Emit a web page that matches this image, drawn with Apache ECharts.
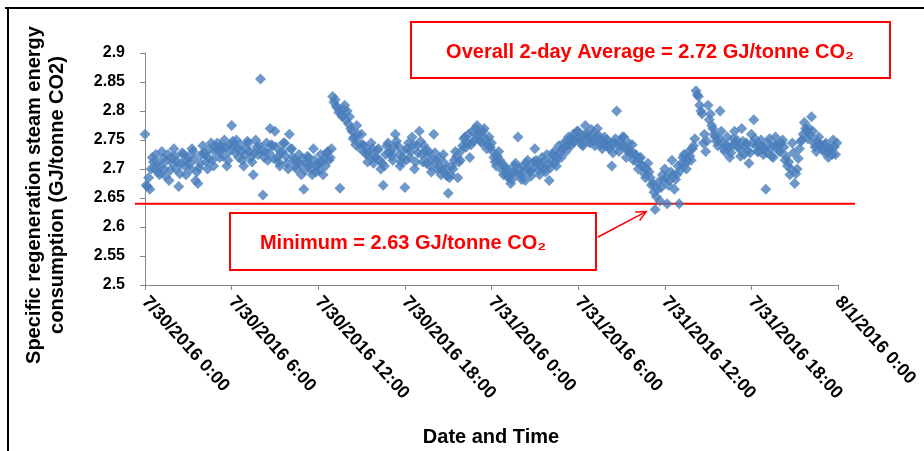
<!DOCTYPE html>
<html>
<head>
<meta charset="utf-8">
<script src="https://cdn.jsdelivr.net/npm/echarts@6/dist/echarts.min.js"></script>
<style>
  html, body { margin: 0; padding: 0; background: #fff; }
  #chart { width: 924px; height: 451px; }
</style>
</head>
<body>
<div id="chart"></div>
<script>
// Tick labels along the time axis (every 6 hours)
const tickLabels = [
  '7/30/2016 0:00', '7/30/2016 6:00', '7/30/2016 12:00', '7/30/2016 18:00',
  '7/31/2016 0:00', '7/31/2016 6:00', '7/31/2016 12:00', '7/31/2016 18:00',
  '8/1/2016 0:00'
];
const tickStepHours = 6;
// Readings are logged every 5 minutes from 7/30/2016 0:00
const sampleStepHours = 1 / 12;

// Specific regeneration steam energy (GJ/tonne CO2), one row per hour
const steam = [
  2.760, 2.672, 2.670, 2.685, 2.665, 2.700, 2.720, 2.712, 2.700, 2.725, 2.710, 2.695,
  2.690, 2.705, 2.730, 2.718, 2.700, 2.688, 2.715, 2.725, 2.680, 2.698, 2.720, 2.710,
  2.735, 2.722, 2.700, 2.712, 2.670, 2.692, 2.710, 2.728, 2.725, 2.705, 2.690, 2.715,
  2.720, 2.708, 2.700, 2.735, 2.730, 2.718, 2.680, 2.695, 2.675, 2.702, 2.710, 2.725,
  2.740, 2.728, 2.725, 2.712, 2.700, 2.718, 2.735, 2.745, 2.715, 2.705, 2.730, 2.738,
  2.745, 2.732, 2.720, 2.740, 2.735, 2.722, 2.750, 2.738, 2.705, 2.715, 2.730, 2.742,
  2.775, 2.748, 2.740, 2.728, 2.750, 2.735, 2.720, 2.742, 2.730, 2.715, 2.705, 2.725,
  2.735, 2.748, 2.745, 2.730, 2.720, 2.712, 2.690, 2.728, 2.750, 2.738, 2.725, 2.740,
  2.855, 2.732, 2.655, 2.720, 2.730, 2.745, 2.715, 2.728, 2.770, 2.742, 2.740, 2.718,
  2.765, 2.738, 2.720, 2.712, 2.705, 2.728, 2.730, 2.745, 2.745, 2.722, 2.710, 2.700,
  2.760, 2.735, 2.735, 2.720, 2.715, 2.705, 2.700, 2.712, 2.725, 2.708, 2.690, 2.718,
  2.665, 2.698, 2.710, 2.722, 2.720, 2.708, 2.700, 2.690, 2.735, 2.715, 2.695, 2.705,
  2.710, 2.698, 2.725, 2.712, 2.690, 2.718, 2.705, 2.728, 2.730, 2.715, 2.720, 2.735,
  2.825, 2.815, 2.820, 2.808, 2.805, 2.798, 2.667, 2.795, 2.790, 2.802, 2.810, 2.785,
  2.800, 2.778, 2.790, 2.770, 2.765, 2.752, 2.755, 2.742, 2.775, 2.760, 2.745, 2.735,
  2.760, 2.742, 2.740, 2.728, 2.725, 2.712, 2.730, 2.722, 2.745, 2.735, 2.710, 2.720,
  2.720, 2.732, 2.735, 2.715, 2.700, 2.710, 2.672, 2.705, 2.725, 2.740, 2.745, 2.728,
  2.730, 2.722, 2.715, 2.738, 2.760, 2.748, 2.740, 2.725, 2.705, 2.712, 2.720, 2.732,
  2.668, 2.715, 2.735, 2.745, 2.720, 2.730, 2.755, 2.742, 2.700, 2.712, 2.740, 2.728,
  2.765, 2.748, 2.725, 2.712, 2.740, 2.732, 2.710, 2.722, 2.730, 2.705, 2.695, 2.715,
  2.760, 2.728, 2.715, 2.700, 2.705, 2.718, 2.690, 2.698, 2.725, 2.710, 2.700, 2.688,
  2.658, 2.685, 2.690, 2.705, 2.700, 2.715, 2.730, 2.722, 2.685, 2.712, 2.715, 2.732,
  2.740, 2.752, 2.755, 2.738, 2.745, 2.760, 2.720, 2.742, 2.765, 2.748, 2.750, 2.770,
  2.775, 2.758, 2.760, 2.748, 2.745, 2.765, 2.770, 2.752, 2.735, 2.742, 2.755, 2.738,
  2.745, 2.730, 2.720, 2.712, 2.705, 2.722, 2.730, 2.715, 2.710, 2.698, 2.690, 2.705,
  2.700, 2.688, 2.685, 2.695, 2.675, 2.682, 2.695, 2.705, 2.710, 2.692, 2.755, 2.700,
  2.690, 2.682, 2.705, 2.695, 2.680, 2.710, 2.715, 2.700, 2.695, 2.688, 2.700, 2.712,
  2.735, 2.715, 2.710, 2.698, 2.690, 2.705, 2.720, 2.712, 2.700, 2.695, 2.725, 2.708,
  2.680, 2.702, 2.715, 2.725, 2.730, 2.712, 2.705, 2.720, 2.740, 2.728, 2.720, 2.735,
  2.745, 2.738, 2.730, 2.748, 2.755, 2.742, 2.740, 2.752, 2.760, 2.748, 2.750, 2.765,
  2.765, 2.752, 2.750, 2.742, 2.740, 2.758, 2.775, 2.760, 2.755, 2.748, 2.745, 2.768,
  2.760, 2.748, 2.740, 2.755, 2.770, 2.758, 2.750, 2.742, 2.735, 2.748, 2.755, 2.740,
  2.750, 2.738, 2.735, 2.745, 2.705, 2.728, 2.745, 2.752, 2.800, 2.740, 2.730, 2.748,
  2.740, 2.755, 2.755, 2.738, 2.720, 2.732, 2.745, 2.728, 2.730, 2.742, 2.715, 2.725,
  2.725, 2.712, 2.700, 2.718, 2.720, 2.705, 2.705, 2.692, 2.685, 2.700, 2.710, 2.695,
  2.685, 2.672, 2.675, 2.660, 2.630, 2.652, 2.665, 2.678, 2.645, 2.668, 2.690, 2.680,
  2.700, 2.685, 2.640, 2.672, 2.680, 2.695, 2.715, 2.690, 2.665, 2.682, 2.690, 2.705,
  2.640, 2.698, 2.710, 2.720, 2.725, 2.708, 2.700, 2.715, 2.730, 2.722, 2.715, 2.735,
  2.740, 2.752, 2.835, 2.828, 2.825, 2.810, 2.800, 2.795, 2.745, 2.760, 2.730, 2.748,
  2.810, 2.785, 2.795, 2.775, 2.770, 2.760, 2.755, 2.748, 2.740, 2.752, 2.800, 2.765,
  2.745, 2.735, 2.730, 2.742, 2.755, 2.738, 2.720, 2.728, 2.740, 2.752, 2.765, 2.745,
  2.750, 2.738, 2.735, 2.722, 2.770, 2.748, 2.725, 2.740, 2.745, 2.732, 2.710, 2.728,
  2.760, 2.745, 2.785, 2.752, 2.740, 2.730, 2.730, 2.742, 2.750, 2.738, 2.725, 2.735,
  2.665, 2.728, 2.745, 2.752, 2.735, 2.722, 2.720, 2.740, 2.755, 2.742, 2.740, 2.730,
  2.730, 2.745, 2.750, 2.738, 2.715, 2.722, 2.705, 2.712, 2.690, 2.700, 2.745, 2.728,
  2.675, 2.692, 2.700, 2.718, 2.735, 2.748, 2.750, 2.760, 2.780, 2.770, 2.765, 2.752,
  2.770, 2.758, 2.790, 2.765, 2.745, 2.738, 2.730, 2.748, 2.755, 2.742, 2.740, 2.735,
  2.730, 2.742, 2.745, 2.728, 2.720, 2.735, 2.735, 2.725, 2.750, 2.738, 2.725, 2.745
];

// Reference line drawn under the cloud and the two annotations
const lowerLimit = 2.64;
const overallAverage = 2.72;
const minimumValue = 2.63;

const FONT = '"Liberation Sans", Arial, sans-serif';
const points = steam.map((v, i) => [i * sampleStepHours, v]);
const minIndex = steam.indexOf(minimumValue);

const chart = echarts.init(document.getElementById('chart'), null, { renderer: 'canvas' });

chart.setOption({
  animation: false,
  backgroundColor: '#ffffff',
  grid: { left: 145, right: 86, top: 53, bottom: 166, containLabel: false },
  xAxis: {
    type: 'value',
    min: 0,
    max: tickStepHours * (tickLabels.length - 1),
    interval: tickStepHours,
    splitLine: { show: false },
    axisLine: { lineStyle: { color: '#868686', width: 1 } },
    axisTick: { show: true, length: 5, lineStyle: { color: '#868686' } },
    axisLabel: {
      rotate: -48,
      margin: 14,
      color: '#000',
      fontFamily: FONT,
      fontWeight: 'bold',
      fontSize: 18,
      formatter: v => tickLabels[Math.round(v / tickStepHours)] || ''
    }
  },
  yAxis: {
    type: 'value',
    min: 2.5,
    max: 2.9,
    interval: 0.05,
    splitLine: { show: false },
    axisLine: { show: true, lineStyle: { color: '#868686', width: 1 } },
    axisTick: { show: true, length: 5, lineStyle: { color: '#868686' } },
    axisLabel: {
      margin: 20,
      color: '#000',
      fontFamily: FONT,
      fontWeight: 'bold',
      fontSize: 16,
      formatter: v => String(parseFloat(v.toFixed(2)))
    }
  },
  series: [{
    type: 'scatter',
    data: points,
    symbol: 'diamond',
    symbolSize: 11,
    itemStyle: { color: '#4a7ebb' },
    z: 3
  }]
});

// Annotations positioned from the axes' own scales
const gridLeft = 145, gridRight = 924 - 86;
const yLimit = chart.convertToPixel({ yAxisIndex: 0 }, lowerLimit);
const minPt = chart.convertToPixel({ seriesIndex: 0 }, points[minIndex]);
const tip = [minPt[0] - 9, minPt[1] + 2];
const tail = [598, 237];
const ang = Math.atan2(tip[1] - tail[1], tip[0] - tail[0]);
const head = 11, spread = 0.45;
const headA = [tip[0] - head * Math.cos(ang - spread), tip[1] - head * Math.sin(ang - spread)];
const headB = [tip[0] - head * Math.cos(ang + spread), tip[1] - head * Math.sin(ang + spread)];

chart.setOption({
  graphic: [
    // frame edges of the chart area
    { type: 'line', shape: { x1: 5, y1: 8, x2: 924, y2: 8 }, style: { stroke: '#000', lineWidth: 2 } },
    { type: 'line', shape: { x1: 8, y1: 8, x2: 8, y2: 451 }, style: { stroke: '#000', lineWidth: 2 } },
    // lower limit line
    {
      type: 'line', z: 1,
      shape: { x1: gridLeft - 10, y1: yLimit, x2: gridRight + 17, y2: yLimit },
      style: { stroke: '#ff0000', lineWidth: 2 }
    },
    // average box
    {
      type: 'rect', shape: { x: 411, y: 22, width: 479, height: 56 },
      style: { fill: '#fff', stroke: '#ff0000', lineWidth: 2 }, z: 10
    },
    {
      type: 'text', x: 650, y: 52, z: 11,
      style: {
        text: 'Overall 2-day Average = ' + overallAverage.toFixed(2) + ' GJ/tonne CO₂',
        font: 'bold 20px ' + FONT, fill: '#ff0000', align: 'center', verticalAlign: 'middle'
      }
    },
    // minimum box
    {
      type: 'rect', shape: { x: 230, y: 213, width: 366, height: 57 },
      style: { fill: '#fff', stroke: '#ff0000', lineWidth: 2 }, z: 10
    },
    {
      type: 'text', x: 403, y: 243, z: 11,
      style: {
        text: 'Minimum = ' + minimumValue.toFixed(2) + ' GJ/tonne CO₂',
        font: 'bold 20px ' + FONT, fill: '#ff0000', align: 'center', verticalAlign: 'middle'
      }
    },
    // arrow to the minimum reading
    {
      type: 'line', z: 12,
      shape: { x1: tail[0], y1: tail[1], x2: tip[0], y2: tip[1] },
      style: { stroke: '#ff0000', lineWidth: 1.5 }
    },
    {
      type: 'polyline', z: 12,
      shape: { points: [headA, tip, headB] },
      style: { stroke: '#ff0000', lineWidth: 1.5, fill: null }
    },
    // axis titles
    {
      type: 'text', x: 46, y: 195, rotation: Math.PI / 2,
      style: {
        text: 'Specific regeneration steam energy\nconsumption (GJ/tonne CO2)',
        font: 'bold 20px ' + FONT, fill: '#000', align: 'center', verticalAlign: 'middle',
        lineHeight: 23
      }
    },
    {
      type: 'text', x: 491, y: 437,
      style: {
        text: 'Date and Time',
        font: 'bold 20px ' + FONT, fill: '#000', align: 'center', verticalAlign: 'middle'
      }
    }
  ]
});
</script>
</body>
</html>
